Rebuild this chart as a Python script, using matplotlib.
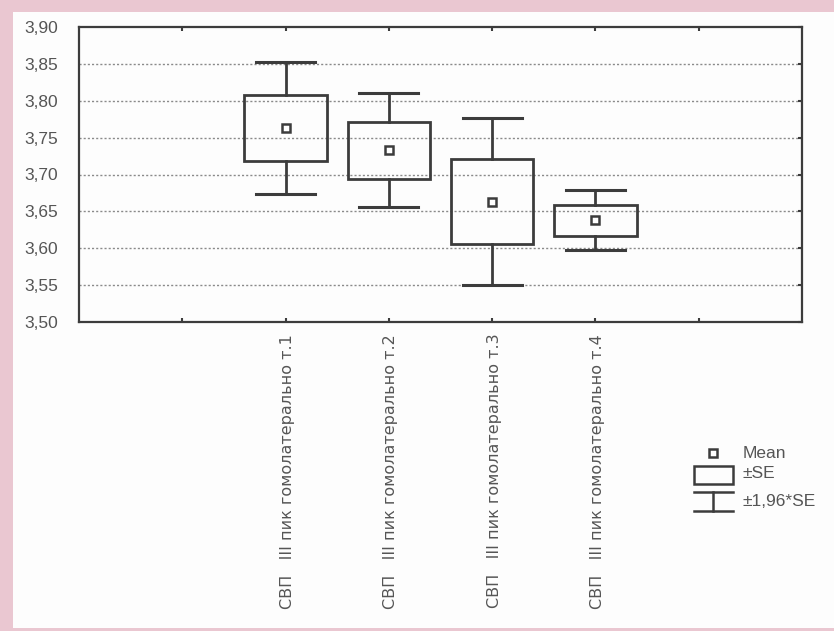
import matplotlib
matplotlib.use("Agg")
import matplotlib.pyplot as plt
from matplotlib.patches import Rectangle
from matplotlib.lines import Line2D

categories = ["СВП   III пик гомолатерально т.1",
              "СВП   III пик гомолатерально т.2",
              "СВП   III пик гомолатерально т.3",
              "СВП   III пик гомолатерально т.4"]
means = [3.763, 3.733, 3.663, 3.638]
se = [0.045, 0.0385, 0.0575, 0.021]
ci_half = [0.089, 0.077, 0.1135, 0.041]   # ±1,96*SE
yticks = [3.50, 3.55, 3.60, 3.65, 3.70, 3.75, 3.80, 3.85, 3.90]
legend_labels = ["Mean", "±SE", "±1,96*SE"]

W, H = 834, 631
fig = plt.figure(figsize=(W / 100, H / 100), dpi=100)
fig.patch.set_facecolor("#eac7d1")

# white page area
bg = fig.add_axes([0, 0, 1, 1])
bg.set_xlim(0, W)
bg.set_ylim(H, 0)
bg.axis("off")
bg.add_patch(Rectangle((13, 12), W - 13, 616, facecolor="#fdfdfd", edgecolor="none"))

dark = "#3c3c3c"
txtc = "#555555"
font = "Liberation Sans"

ax = fig.add_axes([79 / W, 1 - 322 / H, (802 - 79) / W, (322 - 27) / H])
ax.set_facecolor("#fdfdfd")
ax.set_xlim(0, 7)
ax.set_ylim(3.50, 3.90)
for s in ax.spines.values():
    s.set_color(dark)
    s.set_linewidth(1.6)

ax.set_yticks(yticks)
ax.set_yticklabels([f"{v:.2f}".replace(".", ",") for v in yticks],
                   fontname=font, fontsize=12.5, color=txtc)
ax.tick_params(axis="y", which="both", direction="in", length=3, width=1.5,
               color=dark, left=False, right=True, pad=15)
ax.set_xticks([1, 2, 3, 4, 5, 6])
ax.set_xticklabels([])
ax.tick_params(axis="x", direction="in", length=3, width=1.5, color=dark,
               top=True, bottom=True)
for v in yticks[1:-1]:
    ax.axhline(v, color="#8a8a8a", lw=1.0, ls=(0, (1.5, 1.5)), zorder=0)

pos = [2, 3, 4, 5]
bw = 0.80
cw = 0.57
for x, m, s, c in zip(pos, means, se, ci_half):
    ax.plot([x, x], [m + s, m + c], color=dark, lw=2, zorder=2)
    ax.plot([x, x], [m - s, m - c], color=dark, lw=2, zorder=2)
    ax.plot([x - cw / 2, x + cw / 2], [m + c, m + c], color=dark, lw=2.2, zorder=2)
    ax.plot([x - cw / 2, x + cw / 2], [m - c, m - c], color=dark, lw=2.2, zorder=2)
    ax.add_patch(Rectangle((x - bw / 2, m - s), bw, 2 * s, facecolor="none",
                           edgecolor=dark, lw=2, zorder=3))
    ax.plot([x], [m], marker="s", ms=6, mfc="white", mec=dark, mew=1.8, zorder=4)

for x, lab in zip(pos, categories):
    ax.text(x + 0.02, -0.04, lab, transform=ax.get_xaxis_transform(), rotation=90,
            ha="center", va="top", fontname="Liberation Sans Narrow", fontsize=11.5,
            color=txtc)

# legend
bg.plot([713], [453], marker="s", ms=6, mfc="white", mec=dark, mew=1.8)
bg.add_patch(Rectangle((694, 466), 39, 18, facecolor="none", edgecolor=dark, lw=1.8))
bg.add_line(Line2D([694, 733], [492, 492], color=dark, lw=1.8))
bg.add_line(Line2D([694, 733], [511, 511], color=dark, lw=1.8))
bg.add_line(Line2D([713, 713], [492, 511], color=dark, lw=1.8))
for yy, lab in zip([453, 474, 501], legend_labels):
    bg.text(743, yy, lab, fontname=font, fontsize=12.5, color=txtc, va="center",
            ha="left")

fig.savefig("out.png", dpi=100, facecolor=fig.get_facecolor())
